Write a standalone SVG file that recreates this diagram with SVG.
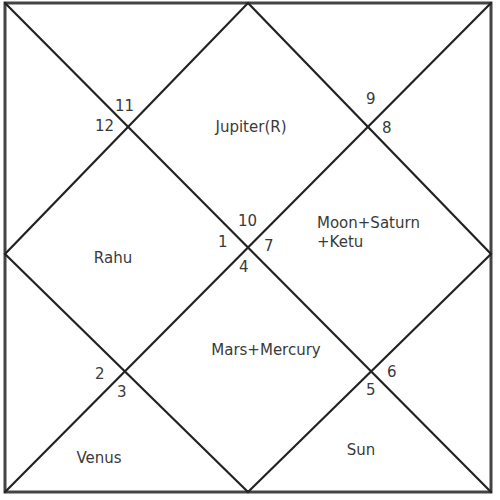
<svg xmlns="http://www.w3.org/2000/svg" width="500" height="500" viewBox="0 0 500 500">
<style>
.ln{stroke:#222;stroke-width:2.2;fill:none;stroke-linecap:round}
.bd{stroke:#444;stroke-width:3;fill:none}
text{font-family:"DejaVu Sans",sans-serif;font-size:15px;fill:#3a3a3a}
.c{text-anchor:middle}
</style>
<rect width="500" height="500" fill="#fff"/>
<g id="connectors">
<rect class="bd" x="5" y="3" width="486" height="489"/>
<line class="ln" x1="5" y1="3" x2="491" y2="492"/>
<line class="ln" x1="491" y1="3" x2="5" y2="492"/>
<polygon class="ln" points="248,3 491,254 248,492 5,254"/>
</g>
<g id="house1"><text x="218" y="247">1</text><text class="c" x="251" y="132">Jupiter(R)</text></g>
<g id="house10"><text x="238" y="226">10</text></g>
<g id="house11"><text x="115" y="111">11</text></g>
<g id="house12"><text x="95" y="131">12</text></g>
<g id="house9"><text x="366" y="104">9</text></g>
<g id="house8"><text x="382" y="133">8</text></g>
<g id="house7"><text x="264" y="251">7</text><text x="317" y="228">Moon+Saturn</text><text x="317" y="247">+Ketu</text></g>
<g id="house4"><text x="239" y="272">4</text><text class="c" x="266" y="355">Mars+Mercury</text></g>
<g id="rahu"><text class="c" x="113" y="263">Rahu</text></g>
<g id="house2"><text x="95" y="379">2</text></g>
<g id="house3"><text x="117" y="397">3</text><text class="c" x="99" y="463">Venus</text></g>
<g id="house6"><text x="387" y="377">6</text></g>
<g id="house5"><text x="366" y="395">5</text><text class="c" x="361" y="455">Sun</text></g>
</svg>
